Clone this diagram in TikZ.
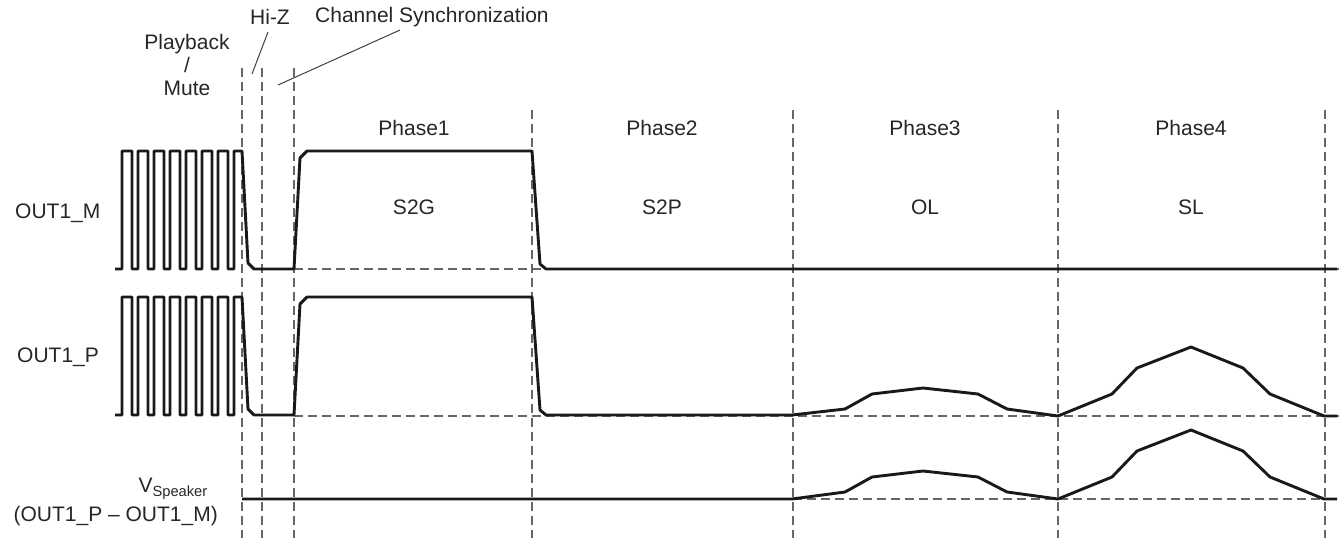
\documentclass[tikz,border=0pt]{standalone}
\usepackage{fontspec}
\setmainfont{Liberation Sans}
\begin{document}
\begin{tikzpicture}[x=1pt,y=-1pt,
  wave/.style={line width=2.9pt, line join=round, black!90},
  guide/.style={black!60, line width=1.2pt, dash pattern=on 9pt off 5pt},
  lbl/.style={font=\fontsize{21}{25}\selectfont, text=black!85, inner sep=0pt},
  pointer/.style={line width=1pt, black!75}]
\useasboundingbox (0,0) rectangle (1339,538);

% guides
\foreach \x in {242,262,294} \draw[guide] (\x,68) -- (\x,538);
\foreach \x in {532,793,1058,1325} \draw[guide] (\x,110) -- (\x,538);
\draw[guide] (294,269) -- (1339,269);
\draw[guide] (294,416) -- (1339,416);
\draw[guide] (793,499) -- (1339,499);

% OUT1_M
\draw[wave] (115,269) \foreach \k in {0,...,6} { -- ({122+16*\k},269) -- ({122+16*\k},151) -- ({132+16*\k},151) -- ({132+16*\k},269) }
  -- (234,269) -- (234,151) -- (242,151) -- (248,263) -- (254,269) -- (294,269)
  -- (300,158) -- (307,151) -- (532,151) -- (540,264) -- (546,269) -- (1337,269);

% OUT1_P
\draw[wave] (115,415) \foreach \k in {0,...,6} { -- ({122+16*\k},415) -- ({122+16*\k},297) -- ({132+16*\k},297) -- ({132+16*\k},415) }
  -- (234,415) -- (234,297) -- (242,297) -- (248,409) -- (254,415) -- (294,415)
  -- (300,304) -- (307,297) -- (532,297) -- (540,410) -- (546,415) -- (792,415)
  -- (845,409) -- (872,394) -- (923,388) -- (978,394) -- (1007,409) -- (1058,416)
  -- (1112,394) -- (1137,368) -- (1191,347) -- (1243,368) -- (1270,394) -- (1324,416) -- (1337,416);

% V speaker
\draw[wave] (242,499) -- (792,499)
  -- (845,492) -- (872,477) -- (923,471) -- (978,477) -- (1007,492) -- (1058,499)
  -- (1112,477) -- (1137,451) -- (1191,430) -- (1243,451) -- (1270,477) -- (1324,499) -- (1337,499);

% labels
\node[lbl, anchor=west] (outm) at (15,213) {OUT1\_M};
\node[lbl, anchor=west] (outp) at (17,357) {OUT1\_P};
\node[lbl, anchor=east] (vsp) at (208,489) {V\textsubscript{Speaker}};
\node[lbl, anchor=east] (diff) at (218,516) {(OUT1\_P – OUT1\_M)};

\node[lbl, align=center] (pbm) at (187,65) {Playback\\[-2pt]/\\[-2pt]Mute};
\node[lbl] (hiz) at (270,17) {Hi-Z};
\node[lbl, anchor=west] (sync) at (315,17) {Channel Synchronization};
\coordinate (hizend) at (252,74);
\coordinate (syncend) at (278,85);
\draw[pointer] (268,32) -- (hizend);
\draw[pointer] (400,30) -- (syncend);

\node[lbl] (p1) at (414,128) {Phase1};
\node[lbl] (p2) at (662,128) {Phase2};
\node[lbl] (p3) at (925,128) {Phase3};
\node[lbl] (p4) at (1191,128) {Phase4};
\node[lbl] (s2g) at (414,207) {S2G};
\node[lbl] (s2p) at (662,207) {S2P};
\node[lbl] (ol) at (925,207) {OL};
\node[lbl] (sl) at (1191,207) {SL};
\end{tikzpicture}
\end{document}
